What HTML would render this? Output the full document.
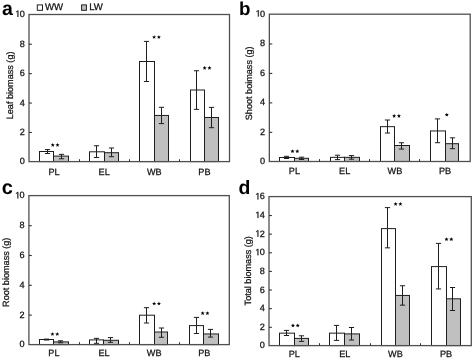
<!DOCTYPE html>
<html><head><meta charset="utf-8"><style>
html,body{margin:0;padding:0;background:#fff;}
body{width:473px;height:359px;overflow:hidden;}
svg{display:block;will-change:transform;}
text{text-rendering:geometricPrecision;font-family:"Liberation Sans",sans-serif;font-size:9.15px;fill:#111;stroke:#111;stroke-width:0.25px;}
text.lt{font-weight:bold;font-size:20px;fill:#000;stroke:none;}
text.lg{font-size:9.6px;}
text.yt{font-size:9.1px;}
</style></head><body>
<svg width="473" height="359" viewBox="0 0 473 359">
<defs><path id="star" d="M0.00 -1.95L0.56 -0.62L2.00 -0.50L0.90 0.44L1.23 1.85L0.00 1.10L-1.23 1.85L-0.90 0.44L-2.00 -0.50L-0.56 -0.62Z" fill="#000"/></defs>
<rect x="39.5" y="151.5" width="14" height="10.1" fill="#fff" stroke="#1e1e1e" stroke-width="1"/>
<path d="M47.5 149.6V153.5M44.9 149.6H50.1M44.9 153.5H50.1" stroke="#1e1e1e" stroke-width="1" fill="none"/>
<rect x="53.5" y="156.1" width="15" height="5.5" fill="#c0c0c0" stroke="#1e1e1e" stroke-width="1"/>
<path d="M61.5 154.35V158.8M58.9 154.35H64.1M58.9 158.8H64.1" stroke="#1e1e1e" stroke-width="1" fill="none"/>
<rect x="89.5" y="151.8" width="15" height="9.8" fill="#fff" stroke="#1e1e1e" stroke-width="1"/>
<path d="M96.5 145.75V157.5M93.9 145.75H99.1M93.9 157.5H99.1" stroke="#1e1e1e" stroke-width="1" fill="none"/>
<rect x="104.5" y="152.7" width="14" height="8.9" fill="#c0c0c0" stroke="#1e1e1e" stroke-width="1"/>
<path d="M111.5 148V156.7M108.9 148H114.1M108.9 156.7H114.1" stroke="#1e1e1e" stroke-width="1" fill="none"/>
<rect x="139.5" y="61.5" width="15" height="100.1" fill="#fff" stroke="#1e1e1e" stroke-width="1"/>
<path d="M146.5 41.4V81.5M143.9 41.4H149.1M143.9 81.5H149.1" stroke="#1e1e1e" stroke-width="1" fill="none"/>
<rect x="154.5" y="115.45" width="14" height="46.15" fill="#c0c0c0" stroke="#1e1e1e" stroke-width="1"/>
<path d="M161.5 107.3V123.6M158.9 107.3H164.1M158.9 123.6H164.1" stroke="#1e1e1e" stroke-width="1" fill="none"/>
<rect x="190.5" y="90" width="14" height="71.6" fill="#fff" stroke="#1e1e1e" stroke-width="1"/>
<path d="M196.5 70.75V109.35M193.9 70.75H199.1M193.9 109.35H199.1" stroke="#1e1e1e" stroke-width="1" fill="none"/>
<rect x="204.5" y="117.5" width="14" height="44.1" fill="#c0c0c0" stroke="#1e1e1e" stroke-width="1"/>
<path d="M211.5 107.4V127.7M208.9 107.4H214.1M208.9 127.7H214.1" stroke="#1e1e1e" stroke-width="1" fill="none"/>
<rect x="29" y="14.5" width="200.5" height="147.1" fill="none" stroke="#505050" stroke-width="1.3"/>
<text x="19.71" y="164.4">0</text>
<path d="M29 132.48H31.9" stroke="#333333" stroke-width="1.1"/>
<text x="19.71" y="134.98">2</text>
<path d="M29 103.06H31.9" stroke="#333333" stroke-width="1.1"/>
<text x="19.71" y="105.56">4</text>
<path d="M29 73.64H31.9" stroke="#333333" stroke-width="1.1"/>
<text x="19.71" y="76.14">6</text>
<path d="M29 44.22H31.9" stroke="#333333" stroke-width="1.1"/>
<text x="19.71" y="46.72">8</text>
<path transform="translate(14.62 16.9) scale(0.004468 -0.004468)" d="M655 0V1237L337 1010V1180L670 1409H836V0Z" fill="#111" stroke="#111" stroke-width="56.0"/>
<text x="19.71" y="16.9">0</text>
<path d="M79.5 161.6V159.2" stroke="#333333" stroke-width="1"/>
<path d="M129.5 161.6V159.2" stroke="#333333" stroke-width="1"/>
<path d="M179.5 161.6V159.2" stroke="#333333" stroke-width="1"/>
<text x="54.06" y="175" text-anchor="middle">PL</text>
<text x="104.19" y="175" text-anchor="middle">EL</text>
<text x="154.31" y="175" text-anchor="middle">WB</text>
<text x="204.44" y="175" text-anchor="middle">PB</text>
<use href="#star" x="52.75" y="144.9"/>
<use href="#star" x="57.55" y="144.9"/>
<use href="#star" x="154.1" y="37"/>
<use href="#star" x="158.9" y="37"/>
<use href="#star" x="204.65" y="67.8"/>
<use href="#star" x="209.45" y="67.8"/>
<text transform="translate(12.6 85.4) rotate(-90)" text-anchor="middle" class="yt">Leaf biomass (g)</text>
<text x="1.9" y="14.6" class="lt" style="font-size:19.5px">a</text>
<rect x="279.5" y="157.5" width="15" height="4" fill="#fff" stroke="#1e1e1e" stroke-width="1"/>
<path d="M286.5 156.3V158.5M283.9 156.3H289.1M283.9 158.5H289.1" stroke="#1e1e1e" stroke-width="1" fill="none"/>
<rect x="294.5" y="158.3" width="14" height="3.2" fill="#c0c0c0" stroke="#1e1e1e" stroke-width="1"/>
<path d="M301.5 157.2V159.5M298.9 157.2H304.1M298.9 159.5H304.1" stroke="#1e1e1e" stroke-width="1" fill="none"/>
<rect x="330.5" y="157.35" width="14" height="4.15" fill="#fff" stroke="#1e1e1e" stroke-width="1"/>
<path d="M337.5 155.2V159.6M334.9 155.2H340.1M334.9 159.6H340.1" stroke="#1e1e1e" stroke-width="1" fill="none"/>
<rect x="344.5" y="157.35" width="15" height="4.15" fill="#c0c0c0" stroke="#1e1e1e" stroke-width="1"/>
<path d="M351.5 155.6V159.2M348.9 155.6H354.1M348.9 159.2H354.1" stroke="#1e1e1e" stroke-width="1" fill="none"/>
<rect x="380.5" y="126.65" width="14" height="34.85" fill="#fff" stroke="#1e1e1e" stroke-width="1"/>
<path d="M387.5 120V133M384.9 120H390.1M384.9 133H390.1" stroke="#1e1e1e" stroke-width="1" fill="none"/>
<rect x="394.5" y="145.5" width="15" height="16" fill="#c0c0c0" stroke="#1e1e1e" stroke-width="1"/>
<path d="M401.5 142.75V149.05M398.9 142.75H404.1M398.9 149.05H404.1" stroke="#1e1e1e" stroke-width="1" fill="none"/>
<rect x="430.5" y="130.95" width="15" height="30.55" fill="#fff" stroke="#1e1e1e" stroke-width="1"/>
<path d="M437.5 118.9V142.7M434.9 118.9H440.1M434.9 142.7H440.1" stroke="#1e1e1e" stroke-width="1" fill="none"/>
<rect x="445.5" y="143.7" width="13" height="17.8" fill="#c0c0c0" stroke="#1e1e1e" stroke-width="1"/>
<path d="M452.5 137.85V148.7M449.9 137.85H455.1M449.9 148.7H455.1" stroke="#1e1e1e" stroke-width="1" fill="none"/>
<rect x="269.35" y="14.2" width="200.85" height="147.3" fill="none" stroke="#505050" stroke-width="1.3"/>
<text x="260.06" y="164.3">0</text>
<path d="M269.35 132.34H272.25" stroke="#333333" stroke-width="1.1"/>
<text x="260.06" y="134.84">2</text>
<path d="M269.35 102.88H272.25" stroke="#333333" stroke-width="1.1"/>
<text x="260.06" y="105.38">4</text>
<path d="M269.35 73.42H272.25" stroke="#333333" stroke-width="1.1"/>
<text x="260.06" y="75.92">6</text>
<path d="M269.35 43.96H272.25" stroke="#333333" stroke-width="1.1"/>
<text x="260.06" y="46.46">8</text>
<path transform="translate(254.97 16.6) scale(0.004468 -0.004468)" d="M655 0V1237L337 1010V1180L670 1409H836V0Z" fill="#111" stroke="#111" stroke-width="56.0"/>
<text x="260.06" y="16.6">0</text>
<path d="M319.5 161.5V159.1" stroke="#333333" stroke-width="1"/>
<path d="M369.5 161.5V159.1" stroke="#333333" stroke-width="1"/>
<path d="M419.5 161.5V159.1" stroke="#333333" stroke-width="1"/>
<text x="294.46" y="174.4" text-anchor="middle">PL</text>
<text x="344.67" y="174.4" text-anchor="middle">EL</text>
<text x="394.88" y="174.4" text-anchor="middle">WB</text>
<text x="445.09" y="174.4" text-anchor="middle">PB</text>
<use href="#star" x="292.5" y="151.2"/>
<use href="#star" x="297.3" y="151.2"/>
<use href="#star" x="394.15" y="115.8"/>
<use href="#star" x="398.95" y="115.8"/>
<use href="#star" x="446.8" y="114.7"/>
<text transform="translate(251.7 83.3) rotate(-90)" text-anchor="middle" class="yt">Shoot boimass (g)</text>
<text x="239" y="14.5" class="lt" style="font-size:18.8px">b</text>
<rect x="39.5" y="339.5" width="14" height="5.1" fill="#fff" stroke="#1e1e1e" stroke-width="1"/>
<path d="M46.5 339.1V340M43.9 339.1H49.1M43.9 340H49.1" stroke="#1e1e1e" stroke-width="1" fill="none"/>
<rect x="53.5" y="341.9" width="15" height="2.7" fill="#c0c0c0" stroke="#1e1e1e" stroke-width="1"/>
<path d="M60.5 340.8V342.8M57.9 340.8H63.1M57.9 342.8H63.1" stroke="#1e1e1e" stroke-width="1" fill="none"/>
<rect x="89.5" y="339.9" width="14" height="4.7" fill="#fff" stroke="#1e1e1e" stroke-width="1"/>
<path d="M96.5 338.35V343.3M93.9 338.35H99.1M93.9 343.3H99.1" stroke="#1e1e1e" stroke-width="1" fill="none"/>
<rect x="103.5" y="340.3" width="15" height="4.3" fill="#c0c0c0" stroke="#1e1e1e" stroke-width="1"/>
<path d="M110.5 337.6V342.35M107.9 337.6H113.1M107.9 342.35H113.1" stroke="#1e1e1e" stroke-width="1" fill="none"/>
<rect x="139.5" y="315.2" width="15" height="29.4" fill="#fff" stroke="#1e1e1e" stroke-width="1"/>
<path d="M146.5 307.7V323M143.9 307.7H149.1M143.9 323H149.1" stroke="#1e1e1e" stroke-width="1" fill="none"/>
<rect x="154.5" y="332" width="13" height="12.6" fill="#c0c0c0" stroke="#1e1e1e" stroke-width="1"/>
<path d="M161.5 328V337.25M158.9 328H164.1M158.9 337.25H164.1" stroke="#1e1e1e" stroke-width="1" fill="none"/>
<rect x="189.5" y="325.6" width="14" height="19" fill="#fff" stroke="#1e1e1e" stroke-width="1"/>
<path d="M196.5 317.4V333.5M193.9 317.4H199.1M193.9 333.5H199.1" stroke="#1e1e1e" stroke-width="1" fill="none"/>
<rect x="203.5" y="333.95" width="15" height="10.65" fill="#c0c0c0" stroke="#1e1e1e" stroke-width="1"/>
<path d="M210.5 329.4V337.1M207.9 329.4H213.1M207.9 337.1H213.1" stroke="#1e1e1e" stroke-width="1" fill="none"/>
<rect x="28.9" y="195.6" width="200.4" height="149" fill="none" stroke="#505050" stroke-width="1.3"/>
<text x="19.61" y="347.4">0</text>
<path d="M28.9 315.1H31.8" stroke="#333333" stroke-width="1.1"/>
<text x="19.61" y="317.6">2</text>
<path d="M28.9 285.3H31.8" stroke="#333333" stroke-width="1.1"/>
<text x="19.61" y="287.8">4</text>
<path d="M28.9 255.5H31.8" stroke="#333333" stroke-width="1.1"/>
<text x="19.61" y="258">6</text>
<path d="M28.9 225.7H31.8" stroke="#333333" stroke-width="1.1"/>
<text x="19.61" y="228.2">8</text>
<path transform="translate(14.52 198.4) scale(0.004468 -0.004468)" d="M655 0V1237L337 1010V1180L670 1409H836V0Z" fill="#111" stroke="#111" stroke-width="56.0"/>
<text x="19.61" y="198.4">0</text>
<path d="M79.5 344.6V342.2" stroke="#333333" stroke-width="1"/>
<path d="M129.5 344.6V342.2" stroke="#333333" stroke-width="1"/>
<path d="M179.5 344.6V342.2" stroke="#333333" stroke-width="1"/>
<text x="53.95" y="356.4" text-anchor="middle">PL</text>
<text x="104.05" y="356.4" text-anchor="middle">EL</text>
<text x="154.15" y="356.4" text-anchor="middle">WB</text>
<text x="204.25" y="356.4" text-anchor="middle">PB</text>
<use href="#star" x="52.45" y="334"/>
<use href="#star" x="57.25" y="334"/>
<use href="#star" x="154.15" y="303.5"/>
<use href="#star" x="158.95" y="303.5"/>
<use href="#star" x="202.65" y="313.1"/>
<use href="#star" x="207.45" y="313.1"/>
<text transform="translate(8.7 272.25) rotate(-90)" text-anchor="middle" class="yt">Root biomass (g)</text>
<text x="1.8" y="193.9" class="lt" style="font-size:20px">c</text>
<rect x="279.5" y="333.15" width="15" height="12.45" fill="#fff" stroke="#1e1e1e" stroke-width="1"/>
<path d="M286.5 330.4V335.5M283.9 330.4H289.1M283.9 335.5H289.1" stroke="#1e1e1e" stroke-width="1" fill="none"/>
<rect x="294.5" y="338.4" width="14" height="7.2" fill="#c0c0c0" stroke="#1e1e1e" stroke-width="1"/>
<path d="M301.5 335.8V341.4M298.9 335.8H304.1M298.9 341.4H304.1" stroke="#1e1e1e" stroke-width="1" fill="none"/>
<rect x="329.5" y="333.15" width="15" height="12.45" fill="#fff" stroke="#1e1e1e" stroke-width="1"/>
<path d="M336.5 325.4V340.4M333.9 325.4H339.1M333.9 340.4H339.1" stroke="#1e1e1e" stroke-width="1" fill="none"/>
<rect x="344.5" y="333.9" width="15" height="11.7" fill="#c0c0c0" stroke="#1e1e1e" stroke-width="1"/>
<path d="M351.5 327.5V340.05M348.9 327.5H354.1M348.9 340.05H354.1" stroke="#1e1e1e" stroke-width="1" fill="none"/>
<rect x="381.5" y="228.6" width="14" height="117" fill="#fff" stroke="#1e1e1e" stroke-width="1"/>
<path d="M387.5 207.6V247.85M384.9 207.6H390.1M384.9 247.85H390.1" stroke="#1e1e1e" stroke-width="1" fill="none"/>
<rect x="395.5" y="295.45" width="14" height="50.15" fill="#c0c0c0" stroke="#1e1e1e" stroke-width="1"/>
<path d="M402.5 285.75V305.15M399.9 285.75H405.1M399.9 305.15H405.1" stroke="#1e1e1e" stroke-width="1" fill="none"/>
<rect x="431.5" y="266.6" width="15" height="79" fill="#fff" stroke="#1e1e1e" stroke-width="1"/>
<path d="M438.5 243.4V288.95M435.9 243.4H441.1M435.9 288.95H441.1" stroke="#1e1e1e" stroke-width="1" fill="none"/>
<rect x="446.5" y="298.8" width="14" height="46.8" fill="#c0c0c0" stroke="#1e1e1e" stroke-width="1"/>
<path d="M452.5 287.5V310.5M449.9 287.5H455.1M449.9 310.5H455.1" stroke="#1e1e1e" stroke-width="1" fill="none"/>
<rect x="269" y="196.6" width="202.3" height="149" fill="none" stroke="#505050" stroke-width="1.3"/>
<text x="259.71" y="348.4">0</text>
<path d="M269 327.28H271.9" stroke="#333333" stroke-width="1.1"/>
<text x="259.71" y="329.78">2</text>
<path d="M269 308.65H271.9" stroke="#333333" stroke-width="1.1"/>
<text x="259.71" y="311.15">4</text>
<path d="M269 290.03H271.9" stroke="#333333" stroke-width="1.1"/>
<text x="259.71" y="292.53">6</text>
<path d="M269 271.4H271.9" stroke="#333333" stroke-width="1.1"/>
<text x="259.71" y="273.9">8</text>
<path d="M269 252.78H271.9" stroke="#333333" stroke-width="1.1"/>
<path transform="translate(254.62 255.28) scale(0.004468 -0.004468)" d="M655 0V1237L337 1010V1180L670 1409H836V0Z" fill="#111" stroke="#111" stroke-width="56.0"/>
<text x="259.71" y="255.28">0</text>
<path d="M269 234.15H271.9" stroke="#333333" stroke-width="1.1"/>
<path transform="translate(254.62 236.65) scale(0.004468 -0.004468)" d="M655 0V1237L337 1010V1180L670 1409H836V0Z" fill="#111" stroke="#111" stroke-width="56.0"/>
<text x="259.71" y="236.65">2</text>
<path d="M269 215.53H271.9" stroke="#333333" stroke-width="1.1"/>
<path transform="translate(254.62 218.03) scale(0.004468 -0.004468)" d="M655 0V1237L337 1010V1180L670 1409H836V0Z" fill="#111" stroke="#111" stroke-width="56.0"/>
<text x="259.71" y="218.03">4</text>
<path transform="translate(254.62 199.4) scale(0.004468 -0.004468)" d="M655 0V1237L337 1010V1180L670 1409H836V0Z" fill="#111" stroke="#111" stroke-width="56.0"/>
<text x="259.71" y="199.4">6</text>
<path d="M319.5 345.6V343.2" stroke="#333333" stroke-width="1"/>
<path d="M370.5 345.6V343.2" stroke="#333333" stroke-width="1"/>
<path d="M420.5 345.6V343.2" stroke="#333333" stroke-width="1"/>
<text x="294.29" y="357.2" text-anchor="middle">PL</text>
<text x="344.86" y="357.2" text-anchor="middle">EL</text>
<text x="395.44" y="357.2" text-anchor="middle">WB</text>
<text x="446.01" y="357.2" text-anchor="middle">PB</text>
<use href="#star" x="292.95" y="325.45"/>
<use href="#star" x="297.75" y="325.45"/>
<use href="#star" x="395.6" y="203.9"/>
<use href="#star" x="400.4" y="203.9"/>
<use href="#star" x="446.5" y="239.2"/>
<use href="#star" x="451.3" y="239.2"/>
<text transform="translate(251.1 270.75) rotate(-90)" text-anchor="middle" class="yt">Total biomass (g)</text>
<text x="238.6" y="193.7" class="lt" style="font-size:19.4px">d</text>
<rect x="37.3" y="4.9" width="5.2" height="5.4" fill="#fff" stroke="#1e1e1e" stroke-width="1"/>
<text x="44.9" y="9.7" class="lg">WW</text>
<rect x="81.6" y="4.9" width="4.8" height="5.4" fill="#c0c0c0" stroke="#1e1e1e" stroke-width="1"/>
<text x="89.2" y="9.7" class="lg">LW</text>
</svg>
</body></html>
